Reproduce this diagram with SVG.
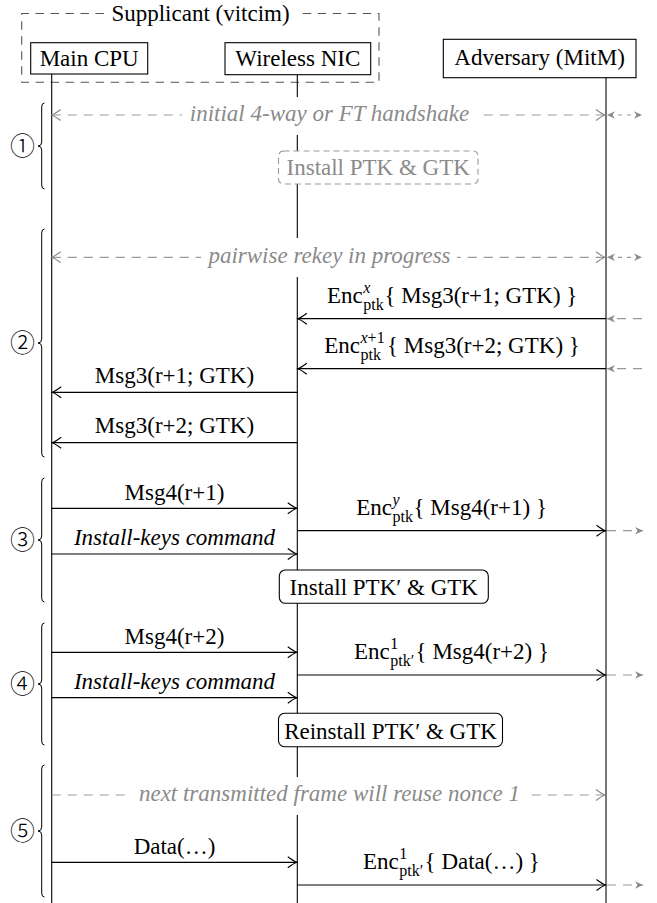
<svg xmlns="http://www.w3.org/2000/svg" width="657" height="903" viewBox="0 0 657 903">
<style>
text{font-family:"Liberation Serif",serif;font-size:23px;fill:#000}
.c{text-anchor:middle}
.e{text-anchor:end}
.it{font-style:italic}
.gt{fill:#8a8a8a}
.sm{font-size:16px}
.box{fill:#fff;stroke:#000;stroke-width:1.1}
.life{stroke:#000;stroke-width:1.1;fill:none}
.msg{stroke:#000;stroke-width:1.2;fill:none;marker-end:url(#to)}
.gd{stroke:#999;stroke-width:1.2;stroke-dasharray:9 7;fill:none}
.brace{stroke:#000;stroke-width:1;fill:none}
text.num{font-family:"Noto Sans CJK JP",sans-serif;font-size:25px;font-weight:300;text-anchor:middle}
</style>
<defs>
<marker id="to" markerUnits="userSpaceOnUse" markerWidth="12" markerHeight="14" viewBox="-10 -7 12 14" refX="0" refY="0" orient="auto-start-reverse" overflow="visible">
<path d="M-9,-5.5 Q-3,-1 0,0 Q-3,1 -9,5.5" fill="none" stroke="#000" stroke-width="1.1"/>
</marker>
<marker id="tog" markerUnits="userSpaceOnUse" markerWidth="12" markerHeight="14" viewBox="-10 -7 12 14" refX="0" refY="0" orient="auto-start-reverse" overflow="visible">
<path d="M-9,-5.5 Q-3,-1 0,0 Q-3,1 -9,5.5" fill="none" stroke="#8a8a8a" stroke-width="1.1"/>
</marker>
<marker id="st" markerUnits="userSpaceOnUse" markerWidth="10" markerHeight="10" viewBox="-8 -5 10 10" refX="0" refY="0" orient="auto-start-reverse" overflow="visible">
<path d="M-8,-3.8 L0,0 L-8,3.8 L-5.5,0 Z" fill="#8a8a8a"/>
</marker>
</defs>

<g id="supplicant">
<path d="M104,13.5 H21.7 V82.3 H379 V13.5 H297" fill="none" stroke="#555" stroke-width="1.1" stroke-dasharray="8.5 6.5"/>
<text class="c" x="200.5" y="20.5">Supplicant (vitcim)</text>
</g>

<g id="lifelines">
<line class="life" x1="51.7" y1="74" x2="51.7" y2="903"/>
<line class="life" x1="297.3" y1="74.7" x2="297.3" y2="903"/>
<line x1="606" y1="77.7" x2="606" y2="903" stroke="#555" stroke-width="1.6"/>
</g>

<g id="cpu">
<rect class="box" x="30.7" y="42.7" width="117" height="31.3"/>
<text class="c" x="89.2" y="65.5">Main CPU</text>
</g>
<g id="nic">
<rect class="box" x="225" y="42.7" width="145.7" height="32"/>
<text class="c" x="297.8" y="65.5">Wireless NIC</text>
</g>
<g id="adversary">
<rect class="box" x="443.3" y="39.3" width="192.7" height="38.4"/>
<text class="c" x="539.6" y="65">Adversary (MitM)</text>
</g>

<g id="phase-labels">
<path class="brace" d="M44.5,103 Q41.7,103 41.7,107 L41.7,142 Q41.7,146 38,146 Q41.7,146 41.7,150 L41.7,185 Q41.7,189 44.5,189"/>
<text class="num" x="22.5" y="155">①</text>
<path class="brace" d="M44.5,229 Q41.7,229 41.7,233 L41.7,339 Q41.7,343 38,343 Q41.7,343 41.7,347 L41.7,453 Q41.7,457 44.5,457"/>
<text class="num" x="22.5" y="352">②</text>
<path class="brace" d="M44.5,478 Q41.7,478 41.7,482 L41.7,536 Q41.7,540 38,540 Q41.7,540 41.7,544 L41.7,598 Q41.7,602 44.5,602"/>
<text class="num" x="22.5" y="549">③</text>
<path class="brace" d="M44.5,623 Q41.7,623 41.7,627 L41.7,680 Q41.7,684 38,684 Q41.7,684 41.7,688 L41.7,741 Q41.7,745 44.5,745"/>
<text class="num" x="22.5" y="693">④</text>
<path class="brace" d="M44.5,765 Q41.7,765 41.7,769 L41.7,827 Q41.7,831 38,831 Q41.7,831 41.7,835 L41.7,893 Q41.7,897 44.5,897"/>
<text class="num" x="22.5" y="840">⑤</text>
</g>

<g id="connectors">
<line class="gd" x1="51.7" y1="115" x2="605" y2="115" marker-start="url(#tog)" marker-end="url(#tog)"/>
<line x1="612" y1="115" x2="636" y2="115" stroke="#999" stroke-width="1.2" stroke-dasharray="4 5" stroke-dashoffset="-6"/>
<line x1="607" y1="115" x2="608" y2="115" stroke="none" marker-start="url(#st)"/>
<line x1="641" y1="115" x2="642" y2="115" stroke="none" marker-end="url(#st)"/>
<line class="gd" x1="51.7" y1="257.3" x2="605" y2="257.3" marker-start="url(#tog)" marker-end="url(#tog)"/>
<line x1="612" y1="257.3" x2="636" y2="257.3" stroke="#999" stroke-width="1.2" stroke-dasharray="4 5" stroke-dashoffset="-6"/>
<line x1="607" y1="257.3" x2="608" y2="257.3" stroke="none" marker-start="url(#st)"/>
<line x1="641" y1="257.3" x2="642" y2="257.3" stroke="none" marker-end="url(#st)"/>
<line class="msg" x1="606" y1="318.7" x2="297.8" y2="318.7"/>
<line class="gd" x1="642" y1="318.7" x2="607" y2="318.7" stroke-dasharray="8 6" marker-end="url(#st)"/>
<line class="msg" x1="606" y1="368.7" x2="297.8" y2="368.7"/>
<line class="gd" x1="642" y1="368.7" x2="607" y2="368.7" stroke-dasharray="8 6" marker-end="url(#st)"/>
<line class="msg" x1="297.3" y1="392.3" x2="52.2" y2="392.3"/>
<line class="msg" x1="297.3" y1="442.7" x2="52.2" y2="442.7"/>
<line class="msg" x1="51.7" y1="508.3" x2="296.8" y2="508.3"/>
<line class="msg" x1="51.7" y1="554" x2="296.8" y2="554"/>
<line class="msg" x1="297.3" y1="530.7" x2="605.5" y2="530.7"/>
<line class="gd" x1="607" y1="530.7" x2="643" y2="530.7" stroke-dasharray="8 6" marker-end="url(#st)"/>
<line class="msg" x1="51.7" y1="652.3" x2="296.8" y2="652.3"/>
<line class="msg" x1="51.7" y1="697.7" x2="296.8" y2="697.7"/>
<line class="msg" x1="297.3" y1="675" x2="605.5" y2="675"/>
<line class="gd" x1="607" y1="675" x2="643" y2="675" stroke-dasharray="8 6" marker-end="url(#st)"/>
<line class="gd" x1="51.7" y1="795" x2="605" y2="795" marker-end="url(#tog)"/>
<line class="msg" x1="51.7" y1="862.3" x2="296.8" y2="862.3"/>
<line class="msg" x1="297.3" y1="885" x2="605.5" y2="885"/>
<line class="gd" x1="607" y1="885" x2="643" y2="885" stroke-dasharray="8 6" marker-end="url(#st)"/>
</g>

<g id="label-handshake">
<rect x="182" y="97" width="295" height="38" fill="#fff"/>
<text class="c it gt" x="329.5" y="120.5">initial 4-way or FT handshake</text>
</g>
<g id="install-ptk-gtk">
<rect x="278.5" y="151" width="199.5" height="33" rx="5" fill="#fff" stroke="#999" stroke-width="1.1" stroke-dasharray="6 4"/>
<text class="c gt" x="378.2" y="175">Install PTK &amp; GTK</text>
</g>

<g id="label-rekey">
<rect x="201" y="238" width="256" height="39" fill="#fff"/>
<text class="c it gt" x="329.5" y="262.5">pairwise rekey in progress</text>
</g>

<g id="msg-labels">
<text class="e" x="362.8" y="302.7">Enc</text>
<text class="sm it" x="363.3" y="292.7">x</text>
<text class="sm" x="363.3" y="309.7">ptk</text>
<text x="384.5" y="302.7">{ Msg3(r+1; GTK) }</text>
<text class="e" x="360" y="352.7">Enc</text>
<text class="sm" x="360.5" y="342.7"><tspan font-style="italic">x</tspan>+1</text>
<text class="sm" x="360.5" y="359.7">ptk</text>
<text x="387" y="352.7">{ Msg3(r+2; GTK) }</text>
<text class="c" x="174.5" y="382.5">Msg3(r+1; GTK)</text>
<text class="c" x="174.5" y="433">Msg3(r+2; GTK)</text>
<text class="c" x="174.5" y="499.5">Msg4(r+1)</text>
<text class="c it" x="174.5" y="545">Install-keys command</text>
<text class="e" x="392" y="514.7">Enc</text>
<text class="sm it" x="392.5" y="504.7">y</text>
<text class="sm" x="392.5" y="521.7">ptk</text>
<text x="413.5" y="514.7">{ Msg4(r+1) }</text>
<text class="c" x="174.5" y="643.5">Msg4(r+2)</text>
<text class="c it" x="174.5" y="689">Install-keys command</text>
<text class="e" x="389.8" y="659">Enc</text>
<text class="sm" x="390.3" y="649">1</text>
<text class="sm" x="390.3" y="666">ptk′</text>
<text x="415.6" y="659">{ Msg4(r+2) }</text>
<text class="c" x="174.5" y="853.5">Data(…)</text>
<text class="e" x="398.8" y="869">Enc</text>
<text class="sm" x="399.3" y="859">1</text>
<text class="sm" x="399.3" y="876">ptk′</text>
<text x="424.6" y="869">{ Data(…) }</text>
</g>

<g id="install-ptk2-gtk">
<rect class="box" x="279.3" y="570" width="209" height="33.3" rx="6"/>
<text class="c" x="383.8" y="595">Install PTK′ &amp; GTK</text>
</g>
<g id="reinstall-ptk2-gtk">
<rect class="box" x="278.5" y="713.3" width="224" height="33.4" rx="6"/>
<text class="c" x="390.5" y="738.5">Reinstall PTK′ &amp; GTK</text>
</g>

<g id="label-nonce">
<rect x="129" y="777" width="400" height="38" fill="#fff"/>
<text class="c it gt" x="329.5" y="800.5">next transmitted frame will reuse nonce 1</text>
</g>
</svg>
